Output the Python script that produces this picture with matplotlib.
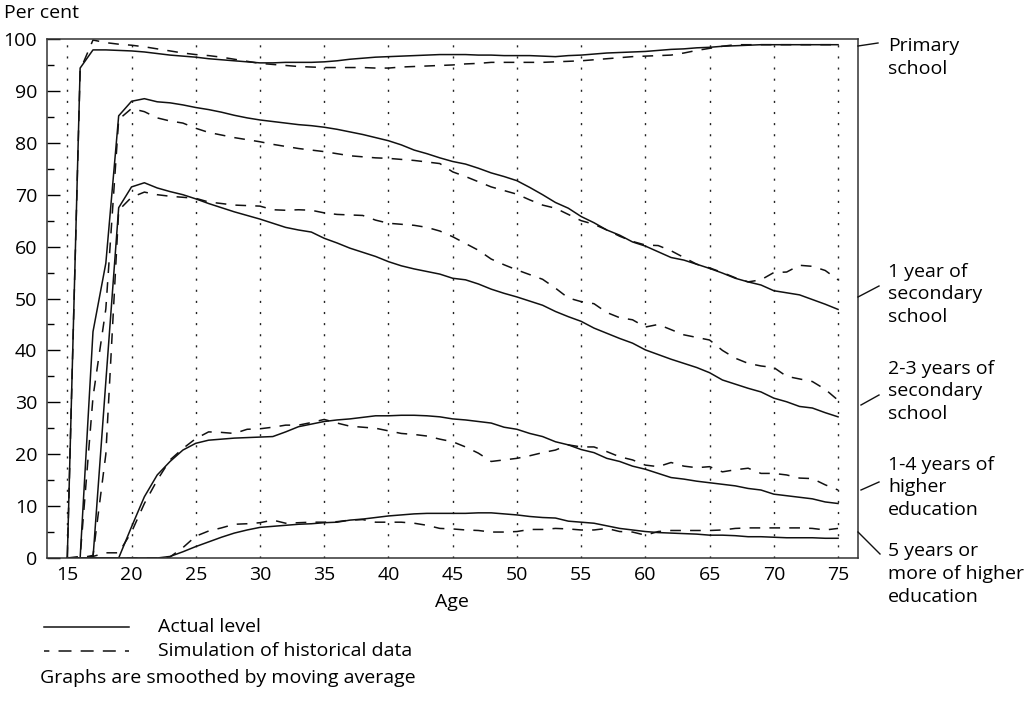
import matplotlib
matplotlib.use("Agg")
import matplotlib.pyplot as plt
from matplotlib.lines import Line2D
from matplotlib.ticker import MultipleLocator

plt.rcParams["font.family"] = ["Open Sans", "DejaVu Sans"]
plt.rcParams["font.size"] = 14

W, H = 1031, 703

# Data, ages 15..75
ages = list(range(15, 76))

primary_actual = [0.0, 94.4, 97.9, 97.9, 97.8, 97.7, 97.5, 97.2, 96.9, 96.7,
                  96.5, 96.2, 96.0, 95.8, 95.6, 95.4, 95.4, 95.5, 95.5, 95.5,
                  95.6, 95.8, 96.1, 96.3, 96.5, 96.6, 96.7, 96.8, 96.9, 97.0,
                  97.0, 97.0, 96.9, 96.9, 96.8, 96.8, 96.8, 96.7, 96.6, 96.8,
                  96.9, 97.1, 97.3, 97.4, 97.5, 97.6, 97.8, 98.0, 98.1, 98.3,
                  98.4, 98.6, 98.7, 98.8, 98.9, 98.9, 98.9, 98.9, 98.9, 98.9,
                  98.9]
primary_sim = [0.0, 94.0, 99.8, 99.3, 99.0, 98.8, 98.5, 98.1, 97.7, 97.3,
               97.0, 96.8, 96.5, 96.1, 95.7, 95.3, 95.1, 94.9, 94.7, 94.6,
               94.5, 94.5, 94.5, 94.5, 94.4, 94.4, 94.6, 94.7, 94.8, 94.9,
               95.0, 95.2, 95.3, 95.5, 95.5, 95.5, 95.5, 95.5, 95.6, 95.7,
               95.8, 96.0, 96.2, 96.4, 96.6, 96.7, 96.8, 96.9, 97.3, 97.8,
               98.2, 98.6, 98.9, 98.9, 98.9, 98.9, 98.9, 98.9, 98.9, 98.9,
               98.9]

sec1_actual = [0.0, 0.0, 43.6, 56.8, 85.2, 88.0, 88.5, 87.9, 87.7, 87.3,
               86.8, 86.4, 85.9, 85.3, 84.8, 84.4, 84.1, 83.8, 83.5, 83.3,
               83.0, 82.6, 82.1, 81.6, 81.0, 80.4, 79.6, 78.6, 77.9, 77.1,
               76.4, 75.9, 75.1, 74.2, 73.5, 72.7, 71.4, 70.0, 68.5, 67.4,
               65.8, 64.6, 63.2, 62.2, 60.9, 60.1, 59.0, 57.9, 57.4, 56.6,
               55.8, 54.9, 53.9, 53.2, 52.6, 51.5, 51.1, 50.7, 49.8, 48.9,
               47.9]
sec1_sim = [0.0, 0.3, 31.0, 48.0, 84.5, 86.6, 86.0, 84.8, 84.2, 83.8,
            82.8, 82.0, 81.5, 81.0, 80.6, 80.2, 79.7, 79.3, 78.9, 78.6,
            78.3, 77.9, 77.5, 77.3, 77.1, 77.0, 76.8, 76.6, 76.3, 76.0,
            74.4, 73.5, 72.5, 71.5, 70.8, 70.1, 69.0, 68.0, 67.4, 66.2,
            65.0, 64.3, 63.2, 62.0, 61.0, 60.3, 60.2, 59.2, 57.9, 56.6,
            55.9, 55.0, 54.0, 53.2, 53.6, 55.0, 55.1, 56.4, 56.2, 55.4,
            53.6]

sec23_actual = [0.0, 0.0, 0.0, 34.0, 67.5, 71.5, 72.3, 71.3, 70.6, 70.0,
                69.2, 68.3, 67.5, 66.7, 66.0, 65.3, 64.5, 63.7, 63.2, 62.8,
                61.6, 60.7, 59.7, 58.9, 58.1, 57.1, 56.3, 55.7, 55.2, 54.7,
                53.9, 53.6, 52.8, 51.8, 51.0, 50.3, 49.5, 48.7, 47.5, 46.5,
                45.6, 44.3, 43.3, 42.3, 41.4, 40.1, 39.2, 38.3, 37.5, 36.7,
                35.7, 34.3, 33.5, 32.7, 32.0, 30.8, 30.1, 29.2, 28.9, 28.0,
                27.2]
sec23_sim = [0.0, 0.0, 0.5, 20.0, 67.0, 69.5, 70.5, 70.0, 69.7, 69.5,
             69.3, 68.6, 68.3, 68.0, 67.9, 67.8, 67.1, 67.0, 67.1, 67.0,
             66.5, 66.2, 66.1, 66.0, 65.1, 64.5, 64.3, 64.1, 63.7, 63.0,
             61.9, 60.6, 59.3, 57.6, 56.5, 55.5, 54.6, 53.7, 52.0, 50.1,
             49.4, 49.0, 47.3, 46.3, 45.9, 44.5, 45.0, 44.0, 43.0, 42.5,
             42.0, 40.0, 38.5, 37.5, 37.0, 36.7, 35.0, 34.5, 34.0, 32.5,
             30.4]

higher14_actual = [0.0, 0.0, 0.0, 0.0, 0.0, 6.0, 11.8, 16.0, 18.6, 20.8,
                   22.1, 22.7, 22.9, 23.1, 23.2, 23.3, 23.4, 24.3, 25.3, 25.8,
                   26.3, 26.6, 26.8, 27.1, 27.4, 27.4, 27.5, 27.5, 27.4, 27.2,
                   26.8, 26.6, 26.3, 26.0, 25.2, 24.8, 24.0, 23.4, 22.4, 21.8,
                   20.9, 20.3, 19.2, 18.6, 17.7, 17.1, 16.3, 15.5, 15.2, 14.8,
                   14.5, 14.2, 13.9, 13.4, 13.1, 12.3, 12.0, 11.7, 11.4, 10.8,
                   10.5]
higher14_sim = [0.0, 0.0, 0.3, 1.0, 1.0, 5.0, 10.5, 15.0, 18.9, 21.1,
                23.0, 24.3, 24.2, 24.0, 24.8, 24.9, 25.2, 25.6, 25.6, 26.1,
                26.7, 26.0, 25.4, 25.2, 25.0, 24.5, 24.0, 23.8, 23.5, 22.9,
                22.4, 21.4, 20.2, 18.6, 18.9, 19.2, 19.7, 20.3, 20.8, 21.8,
                21.4, 21.4, 20.5, 19.5, 18.9, 17.9, 17.6, 18.4, 17.7, 17.4,
                17.6, 16.6, 17.0, 17.3, 16.3, 16.3, 16.0, 15.4, 15.3, 14.1,
                13.1]

higher5_actual = [0.0, 0.0, 0.0, 0.0, 0.0, 0.0, 0.0, 0.0, 0.3, 1.2,
                  2.2, 3.1, 4.0, 4.8, 5.4, 5.9, 6.1, 6.3, 6.5, 6.6,
                  6.8, 6.9, 7.3, 7.5, 7.8, 8.1, 8.3, 8.5, 8.6, 8.6,
                  8.6, 8.6, 8.7, 8.7, 8.5, 8.3, 8.0, 7.8, 7.7, 7.1,
                  6.9, 6.7, 6.2, 5.7, 5.4, 5.1, 4.9, 4.8, 4.7, 4.6,
                  4.4, 4.4, 4.3, 4.1, 4.1, 4.0, 3.9, 3.9, 3.9, 3.8,
                  3.8]
higher5_sim = [0.0, 0.0, 0.0, 0.0, 0.0, 0.0, 0.0, 0.0, 0.2, 2.0,
               4.2, 5.2, 5.8, 6.5, 6.6, 6.8, 7.3, 6.7, 6.8, 6.9,
               6.9, 7.0, 7.3, 7.4, 6.9, 6.9, 6.9, 6.7, 6.3, 5.7,
               5.6, 5.4, 5.3, 5.0, 5.0, 5.1, 5.5, 5.5, 5.7, 5.6,
               5.4, 5.4, 5.7, 5.1, 5.0, 4.4, 5.1, 5.3, 5.3, 5.3,
               5.3, 5.4, 5.7, 5.8, 5.8, 5.8, 5.8, 5.8, 5.7, 5.4,
               5.7]

series = [
    (primary_actual, primary_sim),
    (sec1_actual, sec1_sim),
    (sec23_actual, sec23_sim),
    (higher14_actual, higher14_sim),
    (higher5_actual, higher5_sim),
]

group_labels = ["Primary\nschool",
                "1 year of\nsecondary\nschool",
                "2-3 years of\nsecondary\nschool",
                "1-4 years of\nhigher\neducation",
                "5 years or\nmore of higher\neducation"]
x_ticks = list(range(15, 76, 5))
y_ticks = list(range(0, 101, 10))

DASH = (0, (7, 6))
INK = "#111111"


def fx(px):
    return px / W


def fy(py):
    return 1 - py / H


fig = plt.figure(figsize=(W / 100, H / 100), dpi=100)
ax = fig.add_axes([fx(47), fy(558), fx(857.7) - fx(47), fy(39) - fy(558)])

for actual, sim in series:
    ax.plot(ages, sim, color=INK, lw=1.1, linestyle=DASH)
    ax.plot(ages, actual, color=INK, lw=1.1)

ax.set_xlim(13.42, 76.53)
ax.set_ylim(0, 100)
ax.set_xticks(x_ticks)
ax.set_yticks(y_ticks)
ax.yaxis.set_minor_locator(MultipleLocator(5))
ax.grid(axis="x", color="#222222", lw=1.0, linestyle=(0, (1.5, 6.5)))
ax.tick_params(axis="x", length=0, pad=6, labelsize=14)
ax.tick_params(axis="y", which="major", direction="in", length=9, width=1, pad=7, labelsize=14)
ax.tick_params(axis="y", which="minor", direction="in", length=5, width=1)
for s in ax.spines.values():
    s.set_linewidth(1.1)
    s.set_color("#333333")

fig.text(fx(4), fy(13), "Per cent", ha="left", va="center")
fig.text(fx(452), fy(602), "Age", ha="center", va="center")

# labels on the right with leader lines
label_centers = [57.5, 294.5, 391.5, 487.5, 574]
leaders = [((858, 46), (878, 43)),
           ((858, 297), (879, 286)),
           ((861, 405), (879, 395)),
           ((861, 490), (879, 482)),
           ((858, 532), (880, 554))]
for text, yc, (p0, p1) in zip(group_labels, label_centers, leaders):
    fig.text(fx(888), fy(yc), text, ha="left", va="center", linespacing=1.35)
    fig.add_artist(Line2D([fx(p0[0]), fx(p1[0])], [fy(p0[1]), fy(p1[1])],
                          transform=fig.transFigure, color=INK, lw=1.0))

# legend under the chart
fig.add_artist(Line2D([fx(44), fx(129)], [fy(627), fy(627)],
                      transform=fig.transFigure, color=INK, lw=1.1))
fig.add_artist(Line2D([fx(44), fx(129)], [fy(651), fy(651)],
                      transform=fig.transFigure, color=INK, lw=1.1,
                      linestyle=(5, (8.5, 6))))
fig.text(fx(158), fy(627), "Actual level", ha="left", va="center")
fig.text(fx(158), fy(651), "Simulation of historical data", ha="left", va="center")
fig.text(fx(40), fy(678), "Graphs are smoothed by moving average", ha="left", va="center")

fig.savefig("out.png", dpi=100)
